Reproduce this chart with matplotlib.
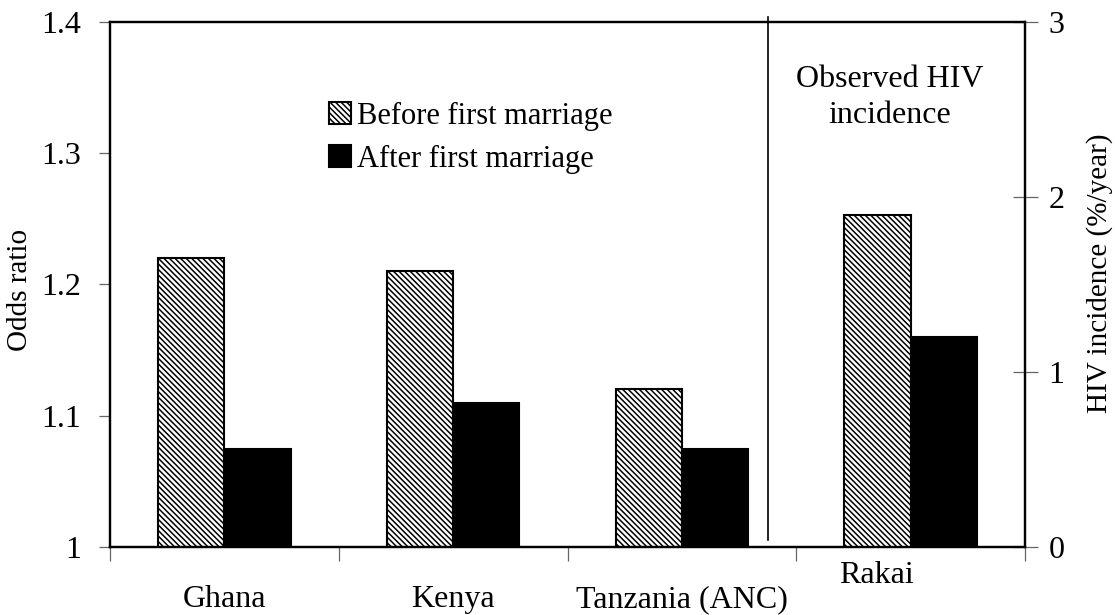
import numpy as np
import matplotlib.pyplot as plt
from matplotlib.transforms import blended_transform_factory

plt.rcParams['font.family'] = ['Liberation Serif', 'DejaVu Serif']
plt.rcParams['hatch.linewidth'] = 1.1

# data
countries = ['Ghana', 'Kenya', 'Tanzania (ANC)']
odds_before = [1.22, 1.21, 1.12]
odds_after = [1.075, 1.11, 1.075]
site = 'Rakai'
incidence_before = [1.9]
incidence_after = [1.2]
odds_ticks = [1, 1.1, 1.2, 1.3, 1.4]
odds_ticklabels = ['1', '1.1', '1.2', '1.3', '1.4']
inc_ticks = [0, 1, 2, 3]

fig = plt.figure(figsize=(11.15, 6.15), dpi=100)
ax = fig.add_axes([0.0987, 0.1106, 0.8206, 0.8536])
ax2 = ax.twinx()

w = 0.29
x = np.arange(len(countries))
hatch = '\\' * 6
b1 = ax.bar(x - w / 2, odds_before, w, color='white', edgecolor='black',
            hatch=hatch, linewidth=1.5, label='Before first marriage')
b2 = ax.bar(x + w / 2, odds_after, w, color='black', edgecolor='black',
            linewidth=1.5, label='After first marriage')

xr = np.array([len(countries)])
ax2.bar(xr - w / 2, incidence_before, w, color='white', edgecolor='black',
        hatch=hatch, linewidth=1.5)
ax2.bar(xr + w / 2, incidence_after, w, color='black', edgecolor='black',
        linewidth=1.5)

ax.set_xlim(-0.5, len(countries) + 0.5)
ax.set_ylim(1, 1.4)
ax2.set_ylim(0, 3)

ax.set_yticks(odds_ticks)
ax.set_yticklabels(odds_ticklabels)
ax2.set_yticks(inc_ticks)
ax.set_xticks(np.arange(-0.5, len(countries) + 1, 1))
ax.set_xticklabels([])

ax.tick_params(axis='y', direction='out', length=8, width=0.9, color='#666666',
               pad=13, labelsize=23)
ax.tick_params(axis='x', direction='out', length=10, width=0.9, color='#666666')
ax2.tick_params(axis='y', direction='inout', length=18, width=0.9, color='#666666',
                pad=8, labelsize=23)

for a in (ax, ax2):
    for s in a.spines.values():
        s.set_linewidth(1.6)
        s.set_color('black')

# divider between modelled odds ratios and observed incidence
ax.plot([2.378, 2.378], [0.013, 1.01], color='black', lw=1.2,
        transform=blended_transform_factory(ax.transData, ax.transAxes),
        clip_on=False)

trans = blended_transform_factory(ax.transData, ax.transAxes)
for xi, name in zip(x, countries):
    ax.text(xi, -0.114, name, transform=trans, ha='center', va='baseline',
            fontsize=23)
ax.text(2.85, -0.0686, site, transform=trans, ha='center', va='baseline',
        fontsize=23)

ax.text(2.91, 0.856, 'Observed HIV\nincidence', transform=trans, ha='center',
        va='center', multialignment='center', fontsize=23, linespacing=1.35)

fig.text(0.018, 0.528, 'Odds ratio', rotation=90, ha='center', va='center',
         fontsize=21)
fig.text(0.9865, 0.556, 'HIV incidence (%/year)', rotation=90, ha='center',
         va='center', fontsize=21)

ax.legend(handles=[b1, b2], loc='upper left', bbox_to_anchor=(0.239, 0.848),
          frameon=False, fontsize=22, handlelength=0.72, handleheight=0.7,
          handletextpad=0.2, labelspacing=0.45, borderpad=0, borderaxespad=0)

fig.savefig('out.png', dpi=100)
